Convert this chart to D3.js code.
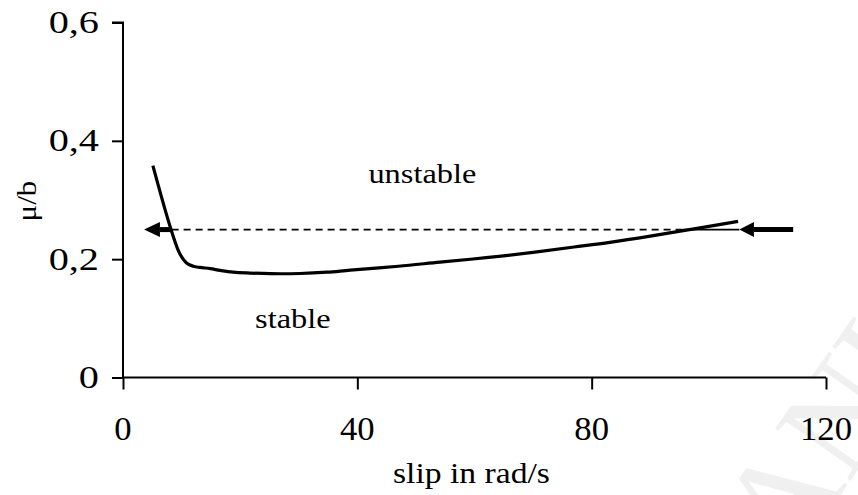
<!DOCTYPE html>
<html>
<head>
<meta charset="utf-8">
<script src="https://cdn.jsdelivr.net/npm/d3@7/dist/d3.min.js"></script>
<style>
  html, body { margin: 0; padding: 0; background: #fff; }
  svg { display: block; }
  text { font-family: "Liberation Serif", "Times New Roman", serif; fill: #000; }
</style>
</head>
<body>
<svg id="chart" width="858" height="495"></svg>
<script>
// Friction ratio μ/b against slip speed
const slip  = [5.1, 8.2, 9.7, 10.9, 12.0, 13.1, 14.9, 16.6, 18.8, 21.7, 25.1, 30.2, 34.8, 38.8, 47.0, 54.1, 62.0, 70.0, 77.0, 83.1, 90.0, 98.5, 105.0];
const muB   = [0.358, 0.250, 0.209, 0.193, 0.188, 0.186, 0.184, 0.181, 0.178, 0.1765, 0.1755, 0.1758, 0.178, 0.1815, 0.188, 0.195, 0.2025, 0.2115, 0.2205, 0.2285, 0.239, 0.253, 0.264];

const xTicks = [0, 40, 80, 120];
const yTicks = [0, 0.2, 0.4, 0.6];
const yTickLabels = ["0", "0,2", "0,4", "0,6"];

// Threshold line with its two arrows (slip values)
const thresholdMu = 0.25;
const dashedFrom = 8.3, dashedTo = 95.6;
const leftArrow  = { tip: 3.6, base: 6.3, tail: 8.3 };
const rightArrow = { tip: 105.2, base: 107.7, tail: 114.4 };

const regionLabels = [
  { text: "unstable", x: 51.1, y: 0.328 },
  { text: "stable",   x: 29.0, y: 0.083 }
];

const svg = d3.select("#chart");
const x = d3.scaleLinear().domain([0, 120]).range([123, 826]);
const y = d3.scaleLinear().domain([0, 0.6]).range([377.5, 22.5]);

// serif text helper with optional horizontal stretch
function label(parent, txt, px, py, size, sx, anchor, rot) {
  const g = parent.append("g").attr("transform", `translate(${px},${py})` + (rot ? ` rotate(${rot})` : ""));
  g.append("text")
    .attr("transform", `scale(${sx},1)`)
    .attr("text-anchor", anchor)
    .style("font-size", size + "px")
    .text(txt);
  return g;
}

// faint page watermark in the lower right
svg.append("text")
  .attr("transform", "translate(760,610) rotate(-55)")
  .attr("text-anchor", "middle")
  .style("font-size", "140px")
  .style("fill", "#f0f0f0")
  .text("ACCEPTED MANUSCRIPT");

// axes
const xAxis = svg.append("g")
  .attr("transform", `translate(0,${y(0)})`)
  .call(d3.axisBottom(x).tickValues(xTicks).tickSize(12).tickFormat(""));
const yAxis = svg.append("g")
  .attr("transform", `translate(${x(0)},0)`)
  .call(d3.axisLeft(y).tickValues(yTicks).tickSize(11).tickFormat(""));
[xAxis, yAxis].forEach(a => {
  a.select(".domain").attr("stroke", "#000").attr("stroke-width", 2);
  a.selectAll(".tick line").attr("stroke", "#000").attr("stroke-width", 2);
});
yAxis.select(".domain").attr("d", `M-11,${y(0.6)}H0V${y(0)}`);
xAxis.select(".domain").attr("d", `M${x(0)},0H${x(120)}`);

xTicks.forEach(v => label(svg, String(v), x(v), 440, 33, 1.05, "middle"));
yTicks.forEach((v, i) => label(svg, yTickLabels[i], 99, y(v) + 10.5, 31, 1.3, "end"));

label(svg, "slip in rad/s", x(60) - 3, 483, 29, 1.16, "middle");
label(svg, "μ/b", 36, 201, 27, 1.15, "middle", -90);

regionLabels.forEach(d => label(svg, d.text, x(d.x), y(d.y), 27, 1.2, "middle"));

// threshold line
svg.append("line")
  .attr("x1", x(dashedFrom)).attr("x2", x(dashedTo))
  .attr("y1", y(thresholdMu)).attr("y2", y(thresholdMu))
  .attr("stroke", "#000").attr("stroke-width", 1.6)
  .attr("stroke-dasharray", "7,5");
svg.append("line")
  .attr("x1", x(dashedTo)).attr("x2", x(rightArrow.tip))
  .attr("y1", y(thresholdMu)).attr("y2", y(thresholdMu))
  .attr("stroke", "#000").attr("stroke-width", 1.6);

function arrow(a) {
  const yy = y(thresholdMu);
  svg.append("line")
    .attr("x1", x(a.base)).attr("x2", x(a.tail))
    .attr("y1", yy).attr("y2", yy)
    .attr("stroke", "#000").attr("stroke-width", 5);
  svg.append("path")
    .attr("d", `M${x(a.tip)},${yy}L${x(a.base)},${yy - 7.5}L${x(a.base)},${yy + 7.5}Z`)
    .attr("fill", "#000");
}
arrow(leftArrow);
arrow(rightArrow);

// friction curve
svg.append("path")
  .datum(slip.map((s, i) => [s, muB[i]]))
  .attr("fill", "none")
  .attr("stroke", "#000")
  .attr("stroke-width", 3.2)
  .attr("stroke-linejoin", "round")
  .attr("d", d3.line().x(d => x(d[0])).y(d => y(d[1])).curve(d3.curveCatmullRom.alpha(0.5)));
</script>
</body>
</html>
